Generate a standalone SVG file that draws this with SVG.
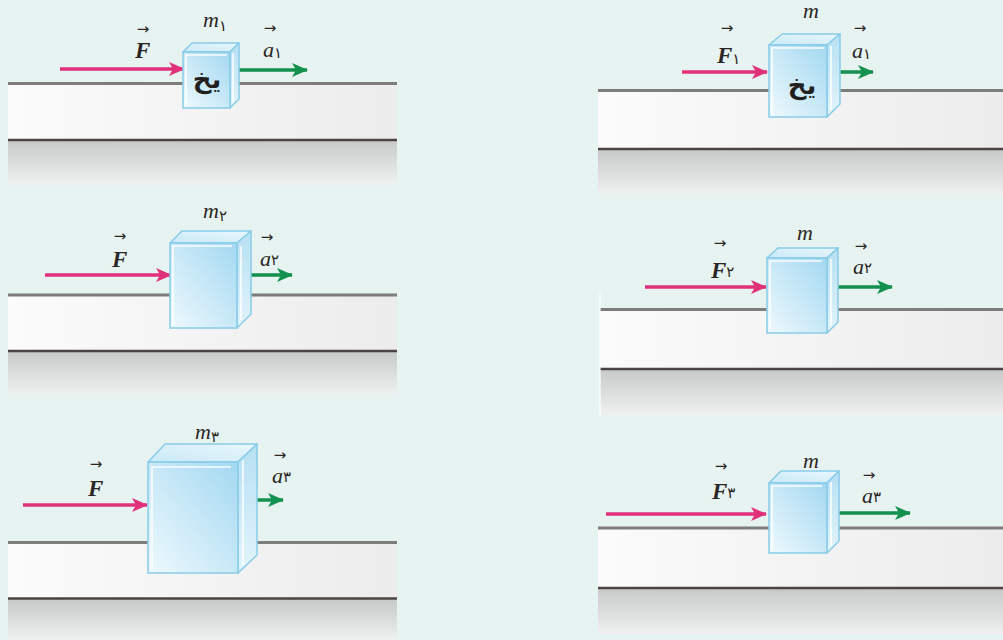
<svg xmlns="http://www.w3.org/2000/svg" width="1003" height="640" viewBox="0 0 1003 640">
  <style>
    .topline { stroke: #7d7d7b; stroke-width: 3; }
    .botline { stroke: #4b4442; stroke-width: 2.5; }
    .band { fill: url(#bandGrad); }
    .shade { fill: url(#shadeGrad); }
    .front { fill: url(#frontGrad); stroke: #88cce8; stroke-width: 1.5; }
    .topf { fill: url(#topGrad); stroke: #88cce8; stroke-width: 1.5; stroke-linejoin: round; }
    .side { fill: url(#sideGrad); stroke: #88cce8; stroke-width: 1.5; stroke-linejoin: round; }
    .hi { stroke: #ffffff; stroke-width: 1.6; fill: none; opacity: 0.9; }
    .force { stroke: #e2317b; stroke-width: 3.5; fill: none; }
    .accel { stroke: #14914c; stroke-width: 3.5; fill: none; }
    .sym { font-family: "Liberation Serif", "DejaVu Serif", serif; font-style: italic; font-weight: bold; font-size: 23px; fill: #2b2624; }
    .mass { font-family: "Liberation Serif", "DejaVu Serif", serif; font-style: italic; font-size: 22px; fill: #2b2624; }
    .idx { font-family: "DejaVu Sans", "Noto Sans", sans-serif; font-style: normal; font-weight: normal; font-size: 15px; fill: #2b2624; }
    .vec { font-family: "DejaVu Sans", sans-serif; font-size: 15px; fill: #2b2624; }
    .ice { font-family: "DejaVu Sans", "Noto Sans", sans-serif; font-size: 26px; font-weight: bold; fill: #231f1e; }
  </style>
  <defs>
    <linearGradient id="bandGrad" x1="0" y1="0" x2="1" y2="0">
      <stop offset="0" stop-color="#fbfbfb"/>
      <stop offset="1" stop-color="#ececec"/>
    </linearGradient>
    <linearGradient id="shadeGrad" x1="0" y1="0" x2="0" y2="1">
      <stop offset="0" stop-color="#c6c9c8"/>
      <stop offset="1" stop-color="#eef1f0"/>
    </linearGradient>
    <linearGradient id="frontGrad" x1="0" y1="1" x2="1" y2="0">
      <stop offset="0" stop-color="#eef9fd"/>
      <stop offset="1" stop-color="#a3d8f1"/>
    </linearGradient>
    <linearGradient id="topGrad" x1="0" y1="1" x2="1" y2="0">
      <stop offset="0" stop-color="#c9e9f7"/>
      <stop offset="1" stop-color="#e9f7fc"/>
    </linearGradient>
    <linearGradient id="sideGrad" x1="0" y1="0" x2="0" y2="1">
      <stop offset="0" stop-color="#b6e0f3"/>
      <stop offset="1" stop-color="#e3f4fb"/>
    </linearGradient>
    <marker id="headF" markerUnits="userSpaceOnUse" markerWidth="18" markerHeight="16" refX="15" refY="8" orient="auto">
      <path d="M0,1 L16,8 L0,15 L4,8 Z" fill="#e2317b"/>
    </marker>
    <marker id="headA" markerUnits="userSpaceOnUse" markerWidth="18" markerHeight="16" refX="15" refY="8" orient="auto">
      <path d="M0,1 L16,8 L0,15 L4,8 Z" fill="#14914c"/>
    </marker>
  </defs>

  <!-- page background -->
  <rect x="0" y="0" width="1003" height="640" fill="#e7f3f1"/>

  <!-- ground surfaces -->
  <g id="grounds">
    <rect class="band" x="8" y="84" width="389" height="55"/>
    <rect class="shade" x="8" y="140" width="389" height="45"/>
    <line class="topline" x1="8" y1="83.5" x2="397" y2="83.5"/>
    <line class="botline" x1="8" y1="140" x2="397" y2="140"/>

    <rect class="band" x="598" y="91" width="405" height="57"/>
    <rect class="shade" x="598" y="149" width="405" height="46"/>
    <line class="topline" x1="598" y1="90.5" x2="1003" y2="90.5"/>
    <line class="botline" x1="598" y1="149" x2="1003" y2="149"/>

    <rect class="band" x="8" y="296" width="389" height="54"/>
    <rect class="shade" x="8" y="351" width="389" height="44"/>
    <line class="topline" x1="8" y1="295" x2="397" y2="295"/>
    <line class="botline" x1="8" y1="351" x2="397" y2="351"/>

    <rect class="band" x="600" y="310" width="403" height="58"/>
    <rect class="shade" x="600" y="369" width="403" height="46"/>
    <line class="topline" x1="600" y1="309.5" x2="1003" y2="309.5"/>
    <line class="botline" x1="600" y1="369" x2="1003" y2="369"/>
    <line x1="600" y1="293" x2="600" y2="415" stroke="#ffffff" stroke-width="1.2"/>

    <rect class="band" x="8" y="543" width="389" height="55"/>
    <rect class="shade" x="8" y="599" width="389" height="41"/>
    <line class="topline" x1="8" y1="542.5" x2="397" y2="542.5"/>
    <line class="botline" x1="8" y1="598.5" x2="397" y2="598.5"/>

    <rect class="band" x="598" y="529" width="405" height="58"/>
    <rect class="shade" x="598" y="588" width="405" height="46"/>
    <line class="topline" x1="598" y1="528" x2="1003" y2="528"/>
    <line class="botline" x1="598" y1="588" x2="1003" y2="588"/>
  </g>

  <!-- force and acceleration vectors -->
  <g id="connectors">
    <line class="force" x1="60" y1="69" x2="184" y2="69" marker-end="url(#headF)"/>
    <line class="accel" x1="235" y1="70" x2="307" y2="70" marker-end="url(#headA)"/>

    <line class="force" x1="682" y1="72" x2="767" y2="72" marker-end="url(#headF)"/>
    <line class="accel" x1="835" y1="72" x2="873" y2="72" marker-end="url(#headA)"/>

    <line class="force" x1="45" y1="275" x2="171" y2="275" marker-end="url(#headF)"/>
    <line class="accel" x1="246" y1="275" x2="292" y2="275" marker-end="url(#headA)"/>

    <line class="force" x1="645" y1="287" x2="766" y2="287" marker-end="url(#headF)"/>
    <line class="accel" x1="833" y1="287" x2="892" y2="287" marker-end="url(#headA)"/>

    <line class="force" x1="23" y1="505" x2="147" y2="505" marker-end="url(#headF)"/>
    <line class="accel" x1="249" y1="500" x2="283" y2="500" marker-end="url(#headA)"/>

    <line class="force" x1="606" y1="514" x2="766" y2="514" marker-end="url(#headF)"/>
    <line class="accel" x1="835" y1="513" x2="910" y2="513" marker-end="url(#headA)"/>
  </g>

  <!-- block m1 (ice) -->
  <g id="block1">
    <polygon class="topf" points="183,52 192,43 239,43 230,52"/>
    <polygon class="side" points="230,52 239,43 239,99 230,108"/>
    <rect class="front" x="183" y="52" width="47" height="56"/>
    <polyline class="hi" points="186,105 186,55 227,55"/>
    <line class="hi" x1="233" y1="53" x2="233" y2="103"/>
    <text class="ice" x="207" y="88" text-anchor="middle">یخ</text>
  </g>

  <!-- block m (ice), first trial -->
  <g id="block4">
    <polygon class="topf" points="769,45 782,34 840,34 827,45"/>
    <polygon class="side" points="827,45 840,34 840,104 827,117"/>
    <rect class="front" x="769" y="45" width="58" height="72"/>
    <polyline class="hi" points="772,114 772,48 824,48"/>
    <line class="hi" x1="831" y1="46" x2="831" y2="110"/>
    <text class="ice" x="802" y="94" text-anchor="middle">یخ</text>
  </g>

  <!-- block m2 -->
  <g id="block2">
    <polygon class="topf" points="170,243 182,231 251,231 237,243"/>
    <polygon class="side" points="237,243 251,231 251,314 237,328"/>
    <rect class="front" x="170" y="243" width="67" height="85"/>
    <polyline class="hi" points="173,325 173,246 232,246"/>
    <line class="hi" x1="241" y1="246" x2="241" y2="320"/>
  </g>

  <!-- block m, second trial -->
  <g id="block5">
    <polygon class="topf" points="767,258 778,248 838,248 827,258"/>
    <polygon class="side" points="827,258 838,248 838,322 827,333"/>
    <rect class="front" x="767" y="258" width="60" height="75"/>
    <polyline class="hi" points="770,330 770,261 822,261"/>
    <line class="hi" x1="831" y1="259" x2="831" y2="326"/>
  </g>

  <!-- block m3 -->
  <g id="block3">
    <polygon class="topf" points="148,462 165,444 257,444 238,462"/>
    <polygon class="side" points="238,462 257,444 257,555 238,573"/>
    <rect class="front" x="148" y="462" width="90" height="111"/>
    <polyline class="hi" points="152,569 152,467 231,467"/>
    <line class="hi" x1="243" y1="460" x2="243" y2="565"/>
  </g>

  <!-- block m, third trial -->
  <g id="block6">
    <polygon class="topf" points="769,483 781,471 839,471 827,483"/>
    <polygon class="side" points="827,483 839,471 839,541 827,553"/>
    <rect class="front" x="769" y="483" width="58" height="70"/>
    <polyline class="hi" points="772,550 772,486 822,486"/>
    <line class="hi" x1="831" y1="482" x2="831" y2="546"/>
  </g>

  <!-- labels -->
  <g id="labels">
    <text class="vec" x="143" y="34" text-anchor="middle">→</text>
    <text class="sym" x="135" y="58">F</text>
    <text class="mass" x="203" y="27">m<tspan class="idx" dy="4">۱</tspan></text>
    <text class="vec" x="270" y="33" text-anchor="middle">→</text>
    <text class="mass" x="263" y="57">a<tspan class="idx" dy="1">۱</tspan></text>

    <text class="vec" x="727" y="33" text-anchor="middle">→</text>
    <text class="sym" x="717" y="63">F<tspan class="idx" dy="1">۱</tspan></text>
    <text class="mass" x="803" y="18">m</text>
    <text class="vec" x="860" y="33" text-anchor="middle">→</text>
    <text class="mass" x="852" y="58">a<tspan class="idx" dy="1">۱</tspan></text>

    <text class="vec" x="120" y="241" text-anchor="middle">→</text>
    <text class="sym" x="112" y="267">F</text>
    <text class="mass" x="203" y="218">m<tspan class="idx" dy="3">۲</tspan></text>
    <text class="vec" x="267" y="242" text-anchor="middle">→</text>
    <text class="mass" x="260" y="266">a<tspan class="idx" dy="-1">۲</tspan></text>

    <text class="vec" x="720" y="248" text-anchor="middle">→</text>
    <text class="sym" x="711" y="278">F<tspan class="idx" dy="-1">۲</tspan></text>
    <text class="mass" x="797" y="240">m</text>
    <text class="vec" x="861" y="251" text-anchor="middle">→</text>
    <text class="mass" x="853" y="274">a<tspan class="idx" dy="-1">۲</tspan></text>

    <text class="vec" x="96" y="469" text-anchor="middle">→</text>
    <text class="sym" x="88" y="496">F</text>
    <text class="mass" x="195" y="439">m<tspan class="idx" dy="3">۳</tspan></text>
    <text class="vec" x="280" y="460" text-anchor="middle">→</text>
    <text class="mass" x="272" y="483">a<tspan class="idx" dy="-1">۳</tspan></text>

    <text class="vec" x="721" y="471" text-anchor="middle">→</text>
    <text class="sym" x="712" y="499">F<tspan class="idx" dy="-1">۳</tspan></text>
    <text class="mass" x="803" y="468">m</text>
    <text class="vec" x="869" y="480" text-anchor="middle">→</text>
    <text class="mass" x="862" y="503">a<tspan class="idx" dy="-1">۳</tspan></text>
  </g>
</svg>
